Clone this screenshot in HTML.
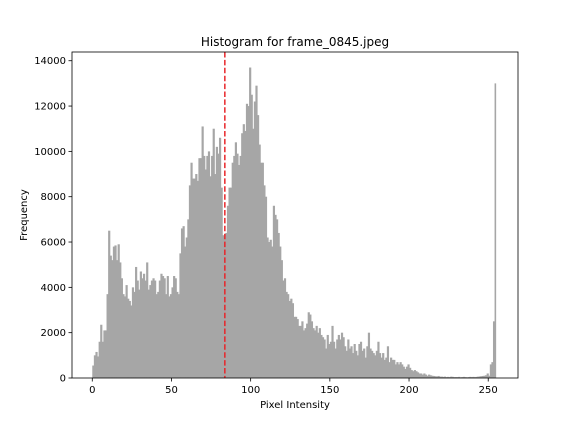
<!DOCTYPE html>
<html><head><meta charset="utf-8"><style>
body{margin:0;background:#fff;}
svg{display:block;font-family:"DejaVu Sans","Liberation Sans",sans-serif;}
</style></head><body>
<svg id="chart" width="576" height="432">
<rect width="576" height="432" fill="#fff"/>
<g id="bars"></g>
<g id="axes"></g>
<text x="295" y="46" font-size="12" text-anchor="middle">Histogram for frame_0845.jpeg</text>
<text x="295" y="408" font-size="10" text-anchor="middle">Pixel Intensity</text>
<text x="27" y="215" font-size="10" text-anchor="middle" transform="rotate(-90 27 215)">Frequency</text>
</svg>
<script>
const counts = [
550,1000,1150,950,1600,2350,1600,2100,2100,3700,
6500,5400,5200,5800,5850,5200,5900,5100,4400,3700,
3600,4100,3500,3400,3200,4000,3800,4900,4300,3900,
4700,4400,4600,4300,5100,3900,4100,4300,4400,4300,
3700,3800,4300,4600,4500,4400,3700,4500,3600,3700,
4000,4500,4400,3800,3700,5500,6600,6700,5800,6200,
7000,8500,9500,8800,8800,9000,8700,9700,9700,11100,
9800,9200,9800,10000,8900,9800,11000,9000,10200,9900,
10600,8400,6300,6200,6400,7600,8400,8400,9500,9800,
10400,9900,9400,9800,10800,11200,10900,12100,12000,13700,
12500,11000,12200,12900,11600,10300,9500,9500,8500,8000,
6200,6000,6100,5800,7600,7200,7000,6400,5800,5200,
4300,4400,3800,3700,3400,3500,3300,2700,2700,2600,
2300,2300,2500,2100,2200,2400,2900,2800,2500,2200,
2100,2300,2000,2200,1900,1800,1700,1300,1900,1500,
1600,2300,1600,1300,1700,1900,1700,2000,1800,1400,
1200,1700,1300,1400,1100,1500,1200,1000,1500,1600,
1200,1300,900,1400,2000,1300,1200,1100,1000,1200,
1600,1100,900,1100,800,900,1400,700,900,800,
800,600,700,600,700,600,500,400,500,600,
450,350,300,350,300,250,200,200,150,200,
150,100,150,120,100,90,80,70,90,60,
60,50,60,40,50,40,60,50,40,40,
40,50,30,40,50,40,30,40,50,40,
50,40,50,60,70,80,90,100,120,200,
100,600,700,2500,13000,0
];
const xTicks = [0,50,100,150,200,250];
const yTicks = [0,2000,4000,6000,8000,10000,12000,14000];
const meanValue = [83.7];

const ns="http://www.w3.org/2000/svg";
const L=72,R=518,T=52,B=378;
const xMin=-12.8,xMax=268.8;
const yMax=Math.max(...counts)*1.05;
const sx=v=>L+(v-xMin)/(xMax-xMin)*(R-L);
const sy=v=>B-v/yMax*(B-T);
const bars=document.getElementById('bars');
counts.forEach((c,i)=>{
  if(c<=0) return;
  const r=document.createElementNS(ns,'rect');
  const next=(i+1<counts.length&&counts[i+1]>0)?0.6:0;
  r.setAttribute('x',sx(i));
  r.setAttribute('y',sy(c));
  r.setAttribute('width',sx(i+1)-sx(i)+next);
  r.setAttribute('height',B-sy(c));
  r.setAttribute('fill','#a6a6a6');
  
  
  bars.appendChild(r);
});
const axes=document.getElementById('axes');
function el(tag,attrs){const e=document.createElementNS(ns,tag);for(const k in attrs)e.setAttribute(k,attrs[k]);axes.appendChild(e);return e;}
meanValue.forEach(m=>{
  const ln=el('line',{x1:sx(m),x2:sx(m),y1:T,y2:B,stroke:'#e8262a','stroke-width':1.5,'stroke-dasharray':'5.5,2.4'});
  
  
});
const frame=el('rect',{x:L,y:T,width:R-L,height:B-T,fill:'none',stroke:'#000','stroke-width':0.8});


xTicks.forEach(t=>{
  const x=sx(t);
  el('line',{x1:x,x2:x,y1:B,y2:B+3.5,stroke:'#000','stroke-width':0.8});
  const tx=el('text',{x:x,y:B+15,'font-size':10,'text-anchor':'middle'});
  tx.textContent=t;
  
  
});
yTicks.forEach(t=>{
  const y=sy(t);
  el('line',{x1:L-3.5,x2:L,y1:y,y2:y,stroke:'#000','stroke-width':0.8});
  const tx=el('text',{x:L-6,y:y+3.5,'font-size':10,'text-anchor':'end'});
  tx.textContent=t;
  
  
});
</script>
</body></html>
